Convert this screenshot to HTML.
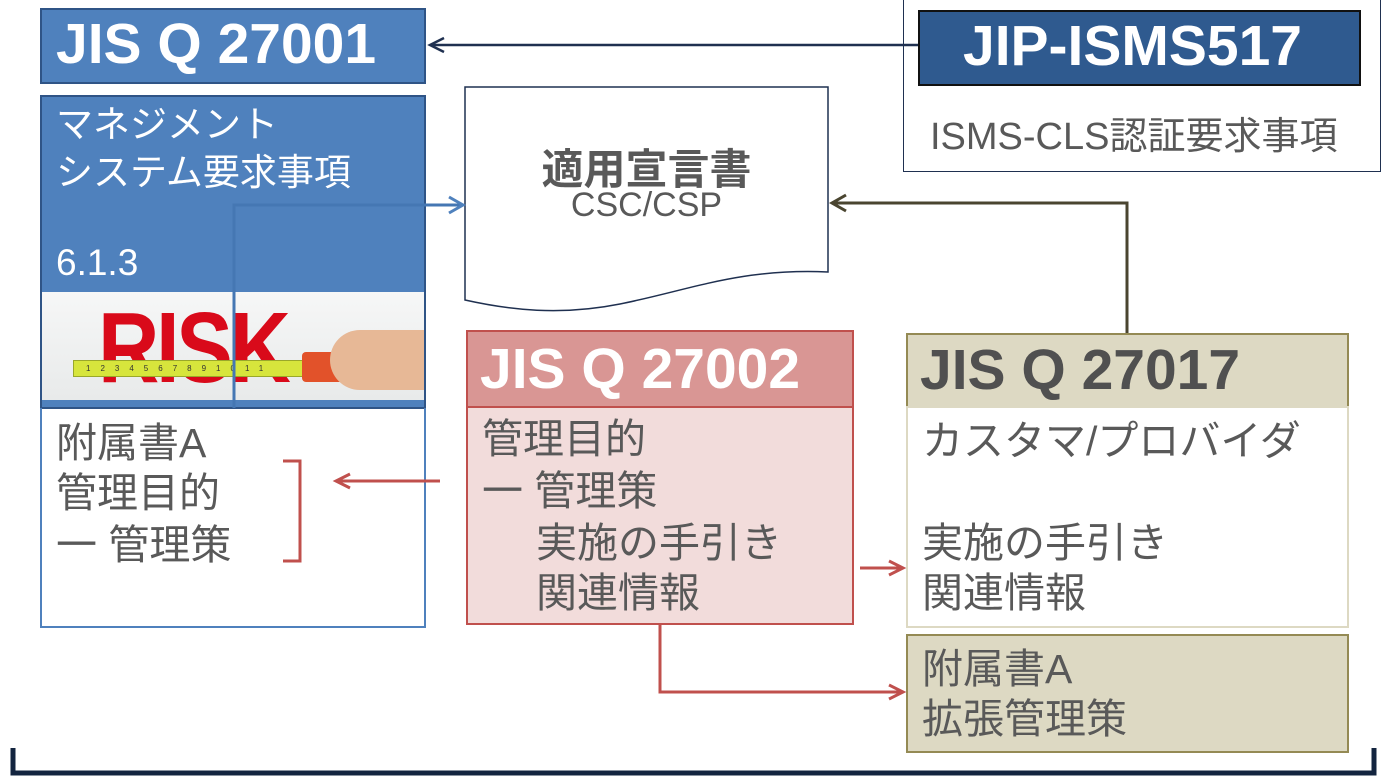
<!DOCTYPE html>
<html><head><meta charset="utf-8"><style>
*{margin:0;padding:0;box-sizing:border-box}
body{width:1387px;height:780px;background:#fff;position:relative;overflow:hidden;font-family:"Liberation Sans","Noto Sans CJK JP",sans-serif}
.a{position:absolute}
.t{position:absolute;white-space:nowrap;color:#595959;font-size:41px;line-height:50px}
.w{font-size:37px}
.h{position:absolute;font-weight:bold;font-size:57px;line-height:1;white-space:nowrap}
</style></head><body>
<div class="a" style="left:40px;top:8px;width:386px;height:76px;background:#4f81bd;border:2px solid #2f5486"></div>
<div class="h" style="left:56px;top:16px;color:#fff">JIS Q 27001</div>
<div class="a" style="left:40px;top:95px;width:386px;height:314px;background:#4f81bd;border:2px solid #2f5486"></div>
<div class="t w" style="left:56px;top:100px;color:#fff">マネジメント</div>
<div class="t w" style="left:56px;top:148px;color:#fff">システム要求事項</div>
<div class="t w" style="left:56px;top:238px;color:#fff">6.1.3</div>
<div class="a" style="left:42px;top:292px;width:382px;height:108px;background:linear-gradient(#f6f7f7,#e8eaea)"></div>
<div class="a" style="left:98px;top:298px;font-weight:bold;font-size:100px;line-height:1;color:#d90a1a;letter-spacing:-4px;transform:scaleX(0.85);transform-origin:left">RISK</div>
<div class="a" style="left:73px;top:360px;width:232px;height:17px;background:#d7e53c;border:1px solid #9aa82a;font-size:8px;color:#333;letter-spacing:10px;padding-left:12px;line-height:15px">1234567891011</div>
<div class="a" style="left:302px;top:352px;width:48px;height:30px;background:#e2522a;border-radius:4px"></div>
<div class="a" style="left:330px;top:330px;width:94px;height:60px;background:#e7b896;border-radius:30px 0 0 30px"></div>
<div class="a" style="left:40px;top:408px;width:386px;height:220px;border:2px solid #4f81bd;border-top:none"></div>
<div class="t" style="left:56px;top:418px">附属書A</div>
<div class="t" style="left:56px;top:468px">管理目的</div>
<div class="t" style="left:56px;top:520px">一 管理策</div>
<div class="a" style="left:903px;top:-2px;width:478px;height:174px;border:1px solid #1f3050"></div>
<div class="a" style="left:918px;top:10px;width:443px;height:76px;background:#2f5a8f;border:2px solid #111"></div>
<div class="h" style="left:963px;top:18px;color:#fff">JIP-ISMS517</div>
<div class="t" style="left:930px;top:112px;font-size:38px">ISMS-CLS認証要求事項</div>
<svg class="a" style="left:0;top:0" width="1387" height="780">
<path d="M465,87 H828 V272 C740,268 690,290 620,304 C560,316 510,310 465,300 Z" fill="#fff" stroke="#1f3050" stroke-width="1.5"/>
</svg>
<div class="a" style="left:465px;top:136px;width:363px;text-align:center;font-weight:bold;font-size:42px;color:#595959">適用宣言書</div>
<div class="a" style="left:465px;top:186px;width:363px;text-align:center;font-size:34px;color:#595959">CSC/CSP</div>
<div class="a" style="left:466px;top:330px;width:388px;height:78px;background:#d99694;border:2px solid #c0504d"></div>
<div class="h" style="left:480px;top:341px;color:#fff">JIS Q 27002</div>
<div class="a" style="left:466px;top:406px;width:388px;height:219px;background:#f2dcdb;border:2px solid #c0504d"></div>
<div class="t" style="left:482px;top:414px">管理目的</div>
<div class="t" style="left:482px;top:466px">一 管理策</div>
<div class="t" style="left:536px;top:518px">実施の手引き</div>
<div class="t" style="left:536px;top:568px">関連情報</div>
<div class="a" style="left:906px;top:333px;width:443px;height:75px;background:#ddd9c3;border:2px solid #948a54"></div>
<div class="h" style="left:920px;top:342px;color:#505050">JIS Q 27017</div>
<div class="a" style="left:906px;top:406px;width:443px;height:222px;background:#fff;border:2px solid #ddd9c3"></div>
<div class="t" style="left:922px;top:416px">カスタマ/プロバイダ</div>
<div class="t" style="left:922px;top:518px">実施の手引き</div>
<div class="t" style="left:922px;top:568px">関連情報</div>
<div class="a" style="left:906px;top:634px;width:443px;height:119px;background:#ddd9c3;border:2px solid #948a54"></div>
<div class="t" style="left:922px;top:644px">附属書A</div>
<div class="t" style="left:922px;top:694px">拡張管理策</div>
<svg class="a" style="left:0;top:0" width="1387" height="780" fill="none">
<path d="M918,45 H432" stroke="#1f3050" stroke-width="2.5"/>
<path d="M444,38 L430,45 L444,52" stroke="#1f3050" stroke-width="2.5"/>
<path d="M234,408 V205 H462" stroke="#4577b3" stroke-width="3"/>
<path d="M449,197 L463,205 L449,213" stroke="#4f81bd" stroke-width="3"/>
<path d="M1127,333 V203 H833" stroke="#4a4530" stroke-width="3"/>
<path d="M846,195 L832,203 L846,211" stroke="#4a4530" stroke-width="3"/>
<path d="M440,481 H337" stroke="#c0504d" stroke-width="3"/>
<path d="M350,474 L336,481 L350,488" stroke="#c0504d" stroke-width="3"/>
<path d="M283,461 H300 V561 H283" stroke="#c0504d" stroke-width="3"/>
<path d="M860,568 H902" stroke="#c0504d" stroke-width="3"/>
<path d="M889,561 L903,568 L889,575" stroke="#c0504d" stroke-width="3"/>
<path d="M660,625 V692 H902" stroke="#c0504d" stroke-width="3"/>
<path d="M889,685 L903,692 L889,699" stroke="#c0504d" stroke-width="3"/>
<path d="M13,748 V773 H1374 V748" stroke="#13243f" stroke-width="5"/>
</svg>
</body></html>
